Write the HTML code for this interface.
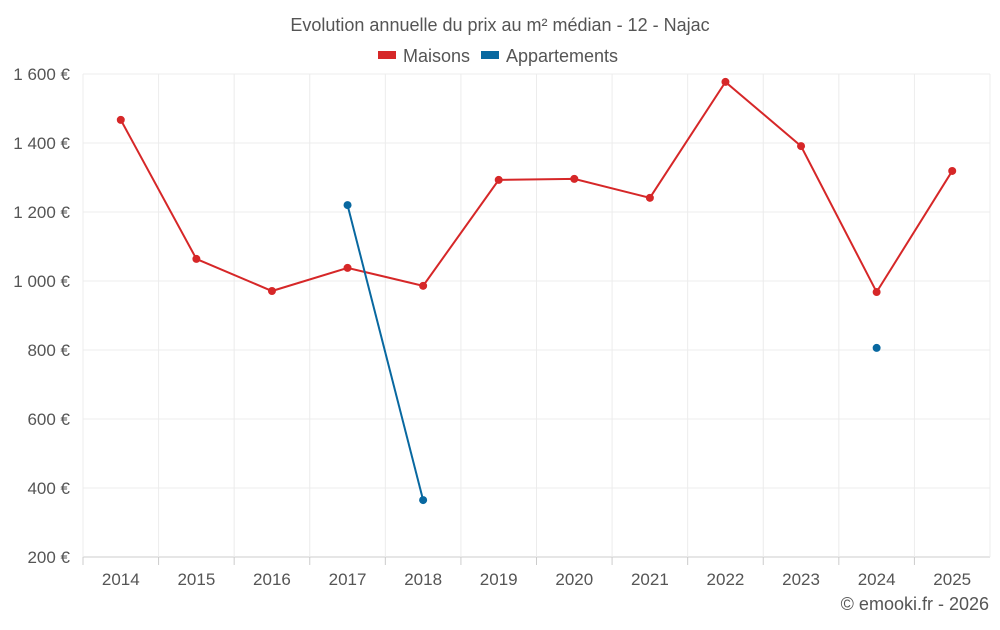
<!DOCTYPE html>
<html><head><meta charset="utf-8"><style>
body{margin:0;background:#fff;}
svg text{font-family:"Liberation Sans",sans-serif;fill:#555;}
</style></head><body>
<svg id="c" width="1000" height="625"></svg>
<script>
const years=["2014","2015","2016","2017","2018","2019","2020","2021","2022","2023","2024","2025"];
const maisons=[1467,1064,971,1038,986,1293,1296,1241,1577,1391,968,1319];
const appartements=[null,null,null,1220,365,null,null,null,null,null,806,null];
const yTicks=[200,400,600,800,1000,1200,1400,1600];
const yTickLabels=["200 €","400 €","600 €","800 €","1 000 €","1 200 €","1 400 €","1 600 €"];
const svg=document.getElementById('c');
const NS='http://www.w3.org/2000/svg';
const L=83,R=990,T=74,B=557,yMin=200,yMax=1600;
const bw=(R-L)/years.length;
const x=i=>L+(i+0.5)*bw;
const y=v=>B-(v-yMin)/(yMax-yMin)*(B-T);
function mk(tag,attrs,parent){const e=document.createElementNS(NS,tag);for(const k in attrs)e.setAttribute(k,attrs[k]);(parent||svg).appendChild(e);return e;}
const grid=mk('g',{});


yTicks.forEach((v,i)=>{
  const l=mk('line',{x1:L,x2:R,y1:y(v),y2:y(v),stroke:i===0?'#ccc':'#ececec','stroke-width':1},grid);
  
  
  const t=mk('text',{x:70,y:y(v)+6,'text-anchor':'end','font-size':17});
  t.textContent=yTickLabels[i];
  
  
});
for(let i=0;i<=years.length;i++){
  const l=mk('line',{x1:L+i*bw,x2:L+i*bw,y1:T,y2:B,stroke:'#ececec'},grid);
  
  
}
years.forEach((yr,i)=>{
  const tk=mk('line',{x1:L+i*bw,x2:L+i*bw,y1:B,y2:B+8,stroke:'#ccc'});
  
  
  const t=mk('text',{x:x(i),y:585,'text-anchor':'middle','font-size':17});
  t.textContent=yr;
  
  
});
function series(data,color,name){
  const g=mk('g',{});
  
  
  let seg=[];
  const flush=()=>{if(seg.length>1){const p=mk('polyline',{points:seg.join(' '),fill:'none',stroke:color,'stroke-width':2},g);}seg=[];};
  data.forEach((v,i)=>{if(v==null){flush();return;}seg.push(x(i)+','+y(v));});
  flush();
  data.forEach((v,i)=>{if(v==null)return;const c=mk('circle',{cx:x(i),cy:y(v),r:4,fill:color},g);});
}
series(maisons,'#d62728','maisons');
series(appartements,'#0868a0','appartements');
const title=mk('text',{x:500,y:31,'text-anchor':'middle','font-size':18});
title.textContent='Evolution annuelle du prix au m² médian - 12 - Najac';


const lg=mk('g',{});


const r1=mk('rect',{x:378,y:51,width:18,height:8,fill:'#d62728'},lg);


const t1=mk('text',{x:403,y:62,'font-size':18},lg);
t1.textContent='Maisons';


const r2=mk('rect',{x:481,y:51,width:18,height:8,fill:'#0868a0'},lg);


const t2=mk('text',{x:506,y:62,'font-size':18},lg);
t2.textContent='Appartements';


const cp=mk('text',{x:989,y:610,'text-anchor':'end','font-size':18});
cp.textContent='© emooki.fr - 2026';


</script>
</body></html>
